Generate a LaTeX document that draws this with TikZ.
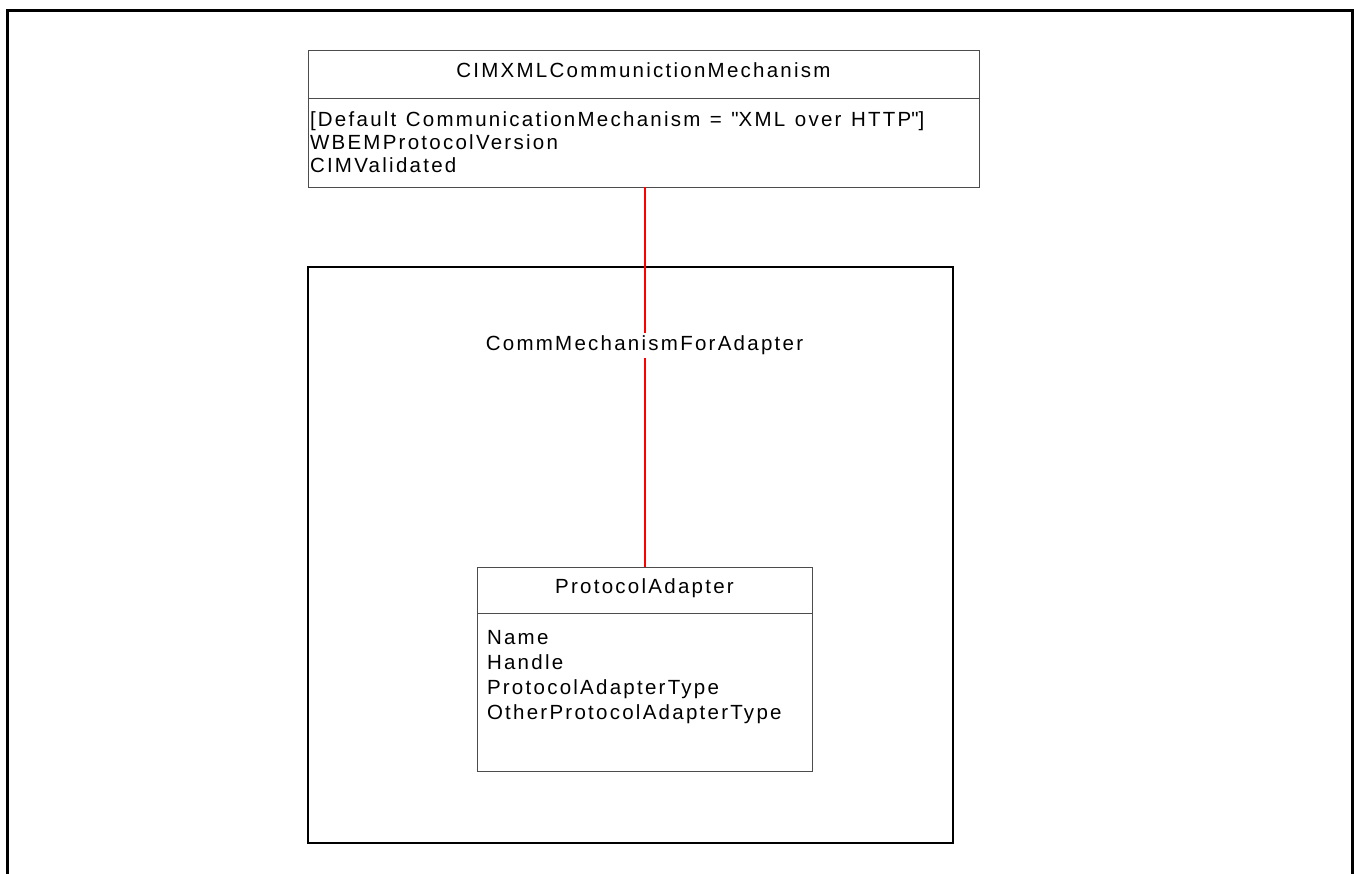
\documentclass[tikz,border=0pt]{standalone}
\usepackage{fontspec}
\setmainfont{Liberation Sans}[LetterSpace=11]
\usetikzlibrary{positioning}
\newcommand{\widespace}{\spaceskip=9.5pt\relax}

\begin{document}
\begin{tikzpicture}[
    x=1pt, y=-1pt,
    font=\fontsize{20.5}{23}\selectfont,
    classhead/.style = {rectangle, draw=black!70, line width=1pt, outer sep=0pt,
                        inner sep=0pt, text height=15pt, text depth=7.5pt, align=center},
    classbody/.style = {rectangle, draw=black!70, line width=1pt, outer sep=0pt,
                        align=left},
    assocbox/.style  = {rectangle, draw=black, line width=2pt, outer sep=0pt},
    link/.style      = {draw=red, line width=2pt},
    linklabel/.style = {fill=white, inner xsep=1pt, inner ysep=3pt}
]
\useasboundingbox (0,0) rectangle (1354,873);
\clip (0,0) rectangle (1354,873);

% page frame
\draw[line width=3pt] (7,10) rectangle (1352,900);

% association class
\node[assocbox, minimum width=645pt, minimum height=576pt] (assoc) at (630.5,555) {};

% CIMXMLCommunictionMechanism
\node[classhead, minimum width=671pt, minimum height=48pt] (mech) at (643.5,74)
    {CIMXMLCommunictionMechanism};
\node[classbody, below=0pt of mech, minimum width=671pt, minimum height=89pt,
      text width=667pt, inner xsep=2pt] (mechattr)
    {\widespace[Default CommunicationMechanism = \textquotedbl XML over HTTP\textquotedbl]\\
     WBEMProtocolVersion\\
     CIMValidated};

% ProtocolAdapter
\node[classhead, minimum width=335pt, minimum height=46pt] (adapter) at (644.5,590)
    {ProtocolAdapter};
\node[classbody, below=0pt of adapter, minimum width=335pt, minimum height=158pt,
      text width=315pt, inner xsep=10pt,
      font=\fontsize{20.5}{25}\selectfont] (adapterattr)
    {Name\\
     Handle\\
     ProtocolAdapterType\\
     OtherProtocolAdapterType\\[10pt]\mbox{}};

% association
\draw[link] (adapter.north |- mechattr.south) -- node[linklabel, pos=0.416] (role)
    {CommMechanismForAdapter} (adapter.north);

\end{tikzpicture}
\end{document}
